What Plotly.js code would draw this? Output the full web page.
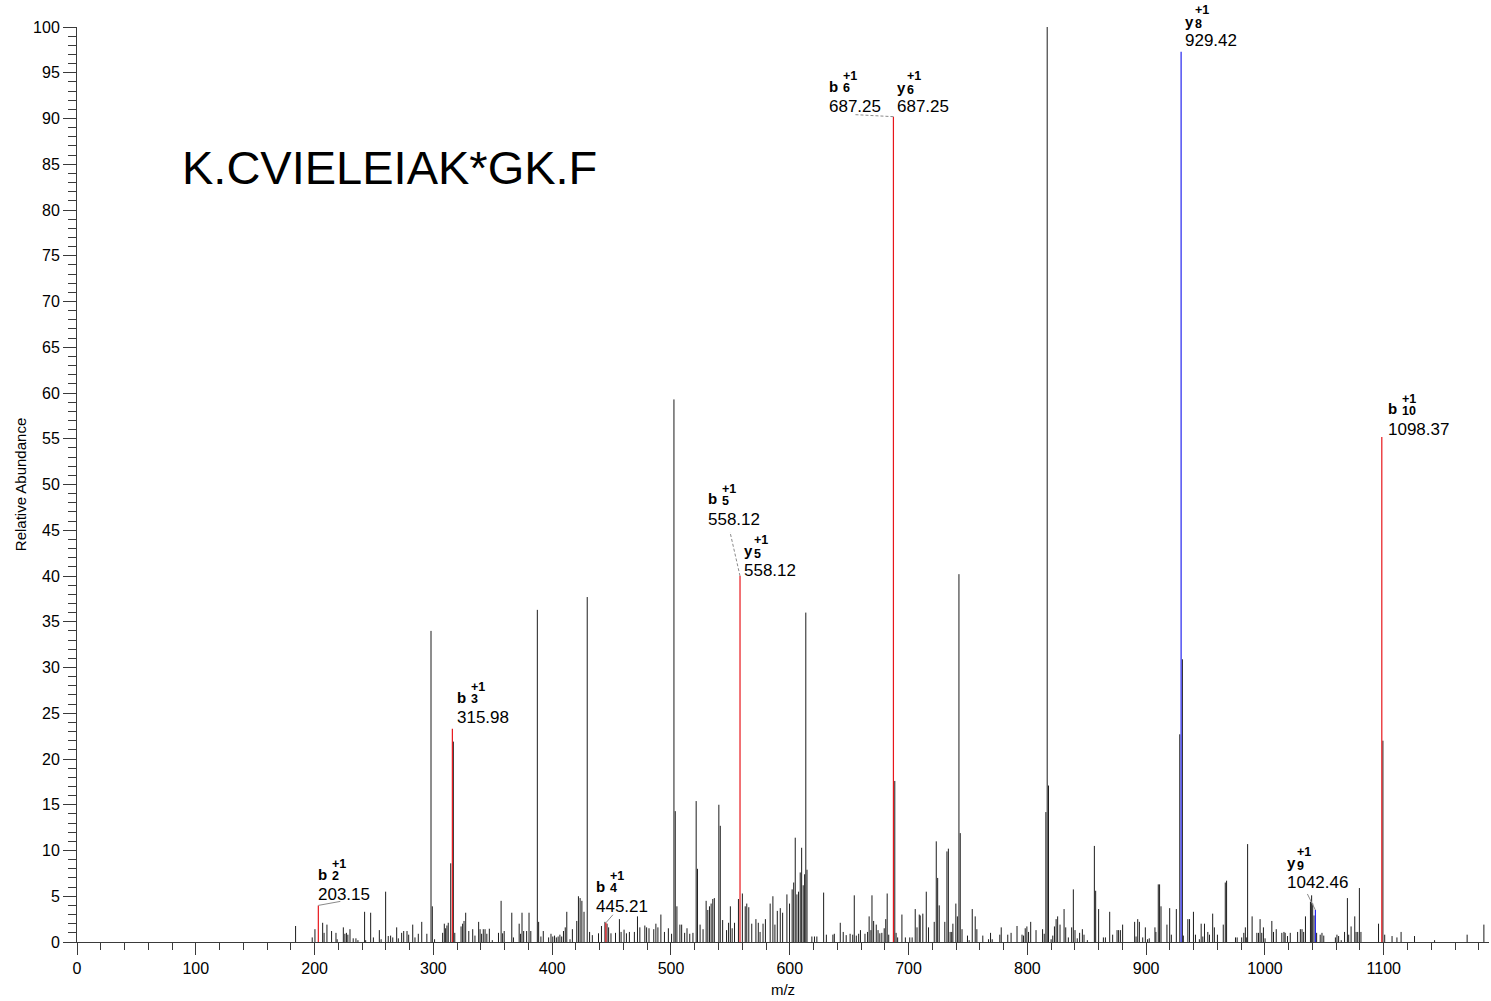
<!DOCTYPE html>
<html>
<head>
<meta charset="utf-8">
<script src="https://cdn.plot.ly/plotly-3.0.1.min.js"></script>
<style>
html,body{margin:0;padding:0;background:#fff;}
#chart{width:1491px;height:1001px;}
</style>
</head>
<body>
<div id="chart"></div>
<script>
// ---------------- DATA ----------------
const peptideText = 'K.CVIELEIAK*GK.F';

// Unassigned peaks (m/z, relative abundance)
const peakMz = [
  184.0,198.0,200.3,206.8,208.0,210.4,214.3,218.0,219.0,224.2,
  225.5,226.8,228.0,229.8,232.5,234.8,236.5,242.1,243.0,247.2,
  249.5,254.5,256.0,259.8,262.0,264.0,265.8,269.1,270.5,273.3,
  275.0,277.8,279.2,282.6,284.5,287.3,290.2,294.5,298.0,299.1,
  301.0,307.8,309.2,310.3,311.4,312.5,314.6,316.8,318.0,323.3,
  324.6,325.8,327.2,329.8,333.1,335.0,338.1,339.3,340.6,342.0,
  343.5,345.0,347.1,349.6,354.8,357.0,358.3,359.6,366.0,367.4,
  372.2,373.4,374.6,376.0,378.5,380.5,382.0,387.5,388.6,390.5,
  392.5,397.0,399.0,400.5,402.0,403.5,405.0,406.5,408.0,409.5,
  411.0,412.3,415.0,417.0,420.7,422.1,423.5,425.0,426.8,429.5,
  431.5,433.8,439.0,441.5,444.4,446.2,447.5,449.5,453.3,456.6,
  458.0,460.5,462.5,465.0,469.2,471.8,473.8,478.0,479.5,481.5,
  485.5,487.3,489.0,491.5,494.5,497.8,500.5,502.5,503.6,505.0,
  507.5,509.0,511.5,513.5,515.8,518.5,521.2,522.3,524.5,527.0,
  529.6,531.0,532.4,533.8,535.2,536.5,540.3,541.5,543.5,546.8,
  548.5,550.0,551.5,553.5,556.8,560.1,562.5,563.8,565.5,568.0,
  571.5,573.5,575.0,577.5,579.5,583.5,585.8,587.5,589.5,592.0,
  594.0,597.6,599.8,602.0,603.3,604.6,606.0,607.4,608.8,610.0,
  611.3,612.5,613.5,614.5,618.6,620.8,622.8,628.5,630.8,636.3,
  637.5,642.5,645.0,647.5,650.8,653.0,654.3,656.0,658.0,659.5,
  663.3,665.5,666.8,668.3,669.2,670.6,672.8,674.3,675.8,677.5,
  679.5,680.8,682.0,683.3,688.4,689.5,690.8,694.4,697.3,701.0,
  703.0,705.6,707.1,709.0,709.8,712.0,714.9,716.8,721.6,723.3,
  724.5,725.8,730.5,732.3,733.5,735.0,736.3,737.3,739.8,741.1,
  742.4,743.5,745.0,749.6,751.0,753.6,756.1,757.5,762.5,767.3,
  769.0,770.4,776.8,778.0,783.5,786.3,791.3,795.5,796.8,798.2,
  799.6,801.0,802.8,807.3,812.8,814.2,815.6,816.7,817.8,820.0,
  821.4,822.8,824.2,825.5,827.5,830.9,832.3,834.5,837.3,838.7,
  840.1,842.0,844.0,846.3,847.7,850.5,856.4,857.5,860.0,864.0,
  865.7,869.3,871.8,875.5,876.8,878.3,880.2,890.3,891.5,892.9,
  894.3,897.1,899.3,901.2,902.6,907.4,908.2,910.2,911.3,912.5,
  917.5,919.8,921.2,925.4,928.3,930.5,931.3,935.1,936.5,939.8,
  941.5,944.8,946.3,947.7,949.1,951.9,953.3,956.0,957.4,960.0,
  964.9,966.6,967.7,975.2,976.6,980.4,982.2,983.5,984.3,985.4,
  989.2,993.2,994.6,995.9,997.3,998.7,1000.1,1005.8,1007.2,1009.5,
  1014.2,1016.0,1017.0,1019.0,1021.3,1027.5,1029.8,1031.2,1032.6,1034.1,
  1038.3,1039.3,1040.2,1041.3,1043.5,1046.5,1048.0,1049.5,1059.3,1060.6,
  1062.0,1064.2,1067.0,1069.4,1070.5,1072.5,1075.6,1076.7,1078.1,1079.5,
  1080.8,1095.6,1099.3,1100.8,1107.0,1111.1,1114.6,1125.9,1142.8,1170.2,
  1184.3
];
const peakInt = [
  1.75,0.5,1.4,2.1,1.0,1.9,1.2,1.0,0.3,1.6,
  0.9,1.0,0.8,1.4,0.4,0.4,0.2,3.3,0.2,3.2,
  0.5,1.3,0.3,5.5,0.65,0.7,0.5,1.6,0.4,1.0,
  1.2,1.2,0.8,1.9,0.5,0.9,2.2,0.9,34.0,3.9,
  0.3,1.0,2.0,1.5,1.8,2.1,8.6,21.9,1.0,1.7,
  2.0,2.3,3.2,1.2,1.4,0.7,2.2,1.4,0.9,1.4,
  1.4,0.9,1.45,0.2,1.0,4.5,0.95,1.2,3.2,0.5,
  2.0,0.9,3.2,1.2,1.2,3.2,1.2,36.3,2.2,0.6,
  1.2,0.5,0.9,0.6,0.7,0.5,0.6,0.8,0.6,1.2,
  1.6,3.3,0.3,1.4,2.3,5.0,4.8,4.5,3.3,37.7,
  1.1,0.75,0.95,1.75,2.2,2.0,1.6,0.95,1.0,2.5,
  1.1,1.35,0.95,1.1,1.1,2.8,1.6,1.8,1.6,1.5,
  1.4,2.0,1.6,3.0,1.1,1.5,0.9,59.3,14.3,3.9,
  1.9,1.9,1.0,1.5,0.9,1.0,15.4,8.0,1.9,1.4,
  4.5,3.5,3.9,4.2,4.7,4.8,15.0,12.7,2.4,1.3,
  2.1,3.9,1.5,2.1,4.7,5.3,3.9,4.2,3.8,2.0,
  2.5,2.1,1.1,2.0,2.5,4.2,5.0,1.9,3.4,3.7,
  3.2,5.2,4.2,5.75,6.5,11.4,5.2,5.5,7.6,10.3,
  6.2,7.4,36.0,7.9,0.6,0.6,0.6,5.4,0.8,0.8,
  0.9,2.1,1.1,0.75,0.9,0.8,5.1,0.7,0.9,1.3,
  0.9,1.1,2.8,1.3,5.1,2.3,1.9,1.3,0.95,1.0,
  1.5,2.5,5.3,0.8,17.6,1.0,0.5,3.0,0.5,0.5,
  0.5,3.6,1.6,3.0,2.9,3.1,5.5,1.6,2.2,11.0,
  7.0,4.0,2.2,9.9,10.2,1.1,1.1,2.0,4.2,2.8,
  40.2,11.9,1.4,0.7,0.2,3.6,2.8,1.4,0.7,0.3,
  1.0,0.3,0.8,1.6,0.8,1.0,1.75,0.8,0.7,1.5,
  1.7,1.1,2.2,1.3,1.4,0.9,14.2,100,17.1,0.3,
  0.7,1.7,2.5,2.8,1.9,3.6,1.6,0.5,1.6,5.75,
  1.3,0.4,1.0,1.4,0.8,0.2,10.5,5.6,3.6,0.5,
  0.5,3.3,0.8,1.3,1.3,1.3,1.9,2.2,0.6,2.5,
  2.2,0.5,1.6,0.3,0.4,1.6,1.1,6.3,6.3,3.9,
  1.9,3.7,0.8,3.6,22.7,30.9,0.7,2.5,2.5,3.3,
  0.8,0.3,2.0,0.6,2.0,1.1,0.8,3.1,1.6,0.8,
  1.9,6.5,6.7,0.5,0.5,0.5,1.0,1.6,0.5,10.7,
  2.8,1.0,1.0,2.5,1.0,1.6,0.4,2.3,1.1,1.4,
  1.0,1.1,1.0,0.65,1.0,1.1,1.4,1.4,1.1,2.8,
  4.4,5.1,4.2,2.9,1.0,0.8,1.0,0.7,0.5,0.8,
  0.65,0.2,1.1,4.8,0.8,1.7,2.8,1.1,1.1,5.9,
  1.1,2.0,22.0,0.8,0.65,0.5,1.1,0.65,0.2,0.8,
  1.9
];

// Matched b ions (red) and y ions (blue)
const bIonMz  = [203.15, 315.98, 445.21, 558.12, 687.25, 1098.37];
const bIonInt = [4.0, 23.3, 2.1, 40.0, 90.2, 55.2];
const yIonMz  = [929.42, 1042.46];
const yIonInt = [97.3, 3.5];

// Fragment labels
const labelIon = ['b','b','b','b','y','b','y','y','y','b'];
const labelNum = ['2','3','4','5','5','6','6','8','9','10'];
const labelCharge = ['+1','+1','+1','+1','+1','+1','+1','+1','+1','+1'];
const labelMz  = [203.15, 315.98, 445.21, 558.12, 558.12, 687.25, 687.25, 929.42, 1042.46, 1098.37];
const labelInt = [4.0, 23.3, 2.1, 40.0, 40.0, 90.2, 90.2, 97.3, 3.5, 55.2];
const labelText = ['203.15','315.98','445.21','558.12','558.12','687.25','687.25','929.42','1042.46','1098.37'];

// ---------------- PLACEMENT (pixels, not data) ----------------
// label left offset from peak (dx) and m/z-text baseline offset from peak top (dy, + = down)
const labelDx = [0, 5, -10, -32, 4, -64, 4, 4, -28, 6];
const labelDy = [-5, -5, -10, -51, 0, -4, -4, -5, -22, -2];
// leader lines: [label index, x1 px, y1 px up, dashed]
const leaders = [[0, 22, 4, false], [2, 7, 8, false], [3, -10, 44, true], [5, -38, 2, true], [8, -8, 16, false]];

// ---------------- BUILD ----------------
function stems(xs, ys) {
  const x = [], y = [];
  xs.forEach((m, i) => { x.push(m, m, null); y.push(0, ys[i], null); });
  return {x, y};
}
const FONT = 'Liberation Sans, Arial, Helvetica, sans-serif';

const bg = stems(peakMz, peakInt);
const bs = stems(bIonMz, bIonInt);
const ys = stems(yIonMz, yIonInt);

const traces = [
  {x: bg.x, y: bg.y, mode: 'lines', line: {color: '#1c1c1c', width: 1}, hoverinfo: 'skip', showlegend: false},
  {x: bs.x, y: bs.y, mode: 'lines', line: {color: '#e8161b', width: 1.2}, hoverinfo: 'skip', showlegend: false},
  {x: ys.x, y: ys.y, mode: 'lines', line: {color: '#2424ee', width: 1.2}, hoverinfo: 'skip', showlegend: false}
];

const annotations = [];
const DESC = 0.212;
const SMALL = 12.5;
labelMz.forEach((m, i) => {
  const dx = labelDx[i], dy = labelDy[i];
  const base = {x: m, y: labelInt[i], xref: 'x', yref: 'y', xanchor: 'left', yanchor: 'bottom',
                showarrow: false, borderpad: 0, borderwidth: 0};
  const isB = labelIon[i] === 'b';
  const subOff = isB ? 14 : 10;
  const letterBase = isB ? dy - 21 : dy - 20;
  const subBase = isB ? dy - 20 : dy - 18;
  const supBase = dy - 32;
  annotations.push(Object.assign({}, base, {text: labelText[i], font: {family: FONT, size: 17, color: '#000'},
    xshift: dx, yshift: -dy - DESC * 17}));
  annotations.push(Object.assign({}, base, {text: '<b>' + labelIon[i] + '</b>', font: {family: FONT, size: 15, color: '#000'},
    xshift: dx, yshift: -letterBase - DESC * 15}));
  annotations.push(Object.assign({}, base, {text: '<b>' + labelNum[i] + '</b>', font: {family: FONT, size: SMALL, color: '#000'},
    xshift: dx + subOff, yshift: -subBase - DESC * SMALL}));
  annotations.push(Object.assign({}, base, {text: '<b>' + labelCharge[i] + '</b>', font: {family: FONT, size: SMALL, color: '#000'},
    xshift: dx + subOff, yshift: -supBase - DESC * SMALL}));
});
annotations.push({text: peptideText, xref: 'paper', yref: 'paper', x: 0.073, y: 0.846,
  xanchor: 'left', yanchor: 'middle', showarrow: false, font: {family: FONT, size: 47, color: '#000'}});

const shapes = leaders.map(([i, x1, y1, dashed]) => ({
  type: 'line', xref: 'x', yref: 'y', xsizemode: 'pixel', ysizemode: 'pixel',
  xanchor: labelMz[i], yanchor: labelInt[i], x0: 0, y0: 0, x1: x1, y1: y1,
  line: {color: '#8a8a8a', width: 1, dash: dashed ? '3px,2px' : 'solid'}
}));

const axisCommon = {
  showline: true, linecolor: '#3a3a3a', linewidth: 1, showgrid: false, zeroline: false,
  ticks: 'outside', tickcolor: '#3a3a3a', tickwidth: 1,
  tickfont: {family: FONT, size: 16, color: '#000'}, fixedrange: true
};

const layout = {
  width: 1491, height: 1001,
  margin: {l: 77, r: 2, t: 27, b: 59},
  paper_bgcolor: '#fff', plot_bgcolor: '#fff',
  font: {family: FONT},
  xaxis: Object.assign({}, axisCommon, {
    range: [0, 1188.6], tick0: 0, dtick: 100, ticklen: 12,
    minor: {dtick: 20, tick0: 0, ticks: 'outside', ticklen: 7, tickcolor: '#3a3a3a', tickwidth: 1},
    title: {text: 'm/z', font: {family: FONT, size: 15, color: '#000'}, standoff: 8}
  }),
  yaxis: Object.assign({}, axisCommon, {
    range: [0, 100], tick0: 0, dtick: 5, ticklen: 13,
    minor: {dtick: 1, tick0: 0, ticks: 'outside', ticklen: 8, tickcolor: '#3a3a3a', tickwidth: 1},
    title: {text: 'Relative Abundance', font: {family: FONT, size: 15, color: '#000'}, standoff: 2}
  }),
  annotations: annotations,
  shapes: shapes,
  showlegend: false
};

Plotly.newPlot('chart', traces, layout, {staticPlot: true, displayModeBar: false});
</script>
</body>
</html>
